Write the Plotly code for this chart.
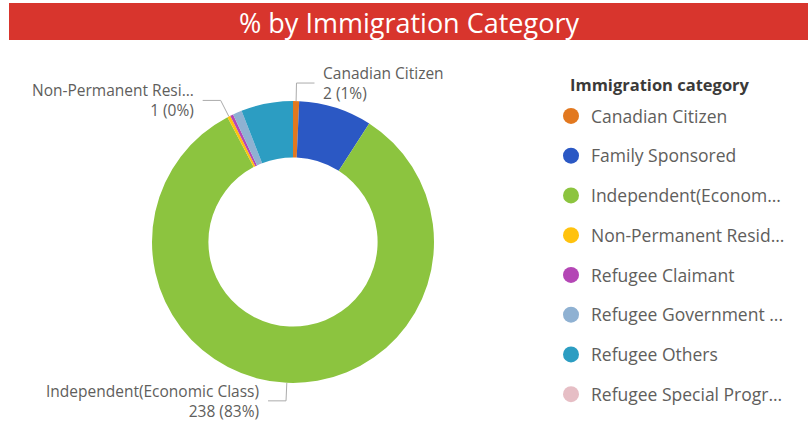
import math
import plotly.graph_objects as go

# ---- data -------------------------------------------------------------
categories = [
    "Canadian Citizen",
    "Family Sponsored",
    "Independent(Economic Class)",
    "Non-Permanent Resident",
    "Refugee Claimant",
    "Refugee Government Assisted",
    "Refugee Others",
    "Refugee Special Program",
]
legend_text = [
    "Canadian Citizen",
    "Family Sponsored",
    "Independent(Econom...",
    "Non-Permanent Resid...",
    "Refugee Claimant",
    "Refugee Government ...",
    "Refugee Others",
    "Refugee Special Progr...",
]
counts = [2, 24, 238, 1, 1, 3, 17, 0]
colors = ["#E2781F", "#2B58C4", "#8CC43F", "#FFC20E",
          "#B446B5", "#8FB1D2", "#2C9DC2", "#E6BEC5"]

# slices that carry an outside data label, with the text to show for the name
labelled = {0: "Canadian Citizen", 2: "Independent(Economic Class)",
            3: "Non-Permanent Resi..."}

# ---- geometry helpers (pixel -> paper) ---------------------------------
W, H = 808, 443
CX, CY, R = 293, 242, 141          # donut centre / outer radius in px


def px(x):
    return x / W


def py(y):
    return 1 - y / H


FONT = "Open Sans"
TEXT_GREY = "#605E5C"

fig = go.Figure()

fig.add_trace(go.Pie(
    labels=categories,
    values=counts,
    marker=dict(colors=colors, line=dict(width=0)),
    hole=0.6,
    sort=False,
    direction="clockwise",
    rotation=0,
    textinfo="none",
    hoverinfo="label+value+percent",
    showlegend=False,
    domain=dict(x=[px(CX - R), px(CX + R)], y=[py(CY + R), py(CY - R)]),
))

# legend entries, one per category
for name, col in zip(legend_text, colors):
    fig.add_trace(go.Scatter(
        x=[None], y=[None], mode="markers", name=name,
        legendgroup=name,
        marker=dict(symbol="circle", size=17, color=col),
        hoverinfo="skip",
    ))

# ---- outside data labels with elbow connectors -------------------------
total = sum(counts)
annotations = []
shapes = []
cum = 0
for i, v in enumerate(counts):
    start = cum
    cum += v
    if i not in labelled:
        continue
    theta = math.radians((start + v / 2) / total * 360)
    ax, ay = CX + R * math.sin(theta), CY - R * math.cos(theta)
    bx, by = CX + (R + 18) * math.sin(theta), CY - (R + 18) * math.cos(theta)
    side = 1 if math.sin(theta) > 0.01 else -1
    cx2 = bx + side * 18
    shapes.append(dict(type="path", xref="paper", yref="paper",
                       path=f"M {px(ax)},{py(ay)} L {px(bx)},{py(by)} L {px(cx2)},{py(by)}",
                       line=dict(color="#ABABAB", width=1)))
    pct = round(v / total * 100)
    annotations.append(dict(
        x=px(cx2 + side * 7), y=py(by), xref="paper", yref="paper",
        xanchor="left" if side > 0 else "right", yanchor="middle",
        align="left" if side > 0 else "right",
        text=f"{labelled[i]}<br>{v} ({pct}%)",
        showarrow=False,
        font=dict(family=FONT, size=15.5, color=TEXT_GREY),
    ))

# ---- title bar ---------------------------------------------------------
shapes.insert(0, dict(type="rect", xref="paper", yref="paper",
                      x0=px(9), x1=1, y0=py(40), y1=py(3),
                      fillcolor="#D8352D", line=dict(width=0), layer="below"))
annotations.append(dict(
    x=px(409), y=py(22), xref="paper", yref="paper",
    xanchor="center", yanchor="middle", showarrow=False,
    text="% by Immigration Category",
    font=dict(family=FONT, size=27, color="white"),
))

# legend heading
annotations.append(dict(
    x=px(568), y=py(84), xref="paper", yref="paper",
    xanchor="left", yanchor="middle", showarrow=False,
    text="<b>Immigration category</b>",
    font=dict(family=FONT, size=16.5, color="#3B3A39"),
))

fig.update_layout(
    width=W, height=H,
    margin=dict(l=0, r=0, t=0, b=0),
    paper_bgcolor="white",
    plot_bgcolor="white",
    xaxis=dict(visible=False),
    yaxis=dict(visible=False),
    shapes=shapes,
    annotations=annotations,
    showlegend=True,
    legend=dict(
        x=px(551), y=py(98), xanchor="left", yanchor="top",
        font=dict(family=FONT, size=17.5, color=TEXT_GREY),
        tracegroupgap=14,
        bgcolor="rgba(0,0,0,0)",
    ),
)

fig.write_html("out.html")
